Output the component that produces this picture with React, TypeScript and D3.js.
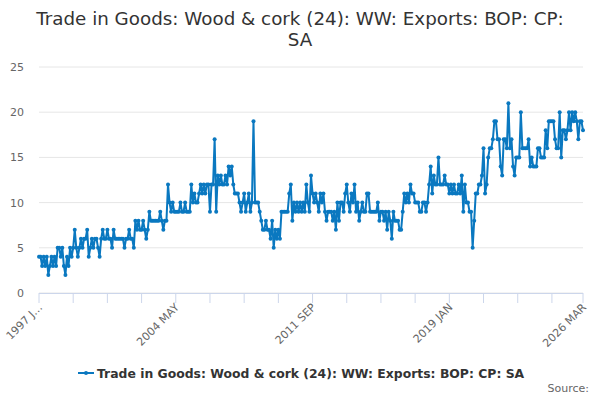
import React, { useEffect, useRef } from "react";
import * as d3 from "d3";

// Monthly values, 1997 JAN .. 2026 MAR
const startYear = 1997;
const monthNames = ["JAN", "FEB", "MAR", "APR", "MAY", "JUN", "JUL", "AUG", "SEP", "OCT", "NOV", "DEC"];

const values1997to2003 = [
  4, 4, 3, 4, 3, 4, 2, 3, 4, 3, 4, 3,
  5, 5, 4, 5, 3, 2, 4, 3, 5, 4, 5, 7,
  5, 4, 5, 6, 5, 6, 6, 7, 4, 5, 6, 5,
  6, 6, 5, 4, 6, 7, 6, 6, 7, 6, 6, 5,
  7, 6, 6, 6, 6, 6, 6, 5, 6, 6, 7, 6,
  6, 5, 8, 7, 8, 7, 7, 8, 7, 6, 7, 9,
  8, 8, 8, 8, 8, 8, 9, 8, 7, 8, 8, 12,
];
const values2004to2010 = [
  10, 9, 10, 9, 9, 9, 9, 10, 9, 9, 10, 9,
  9, 9, 12, 10, 11, 10, 10, 11, 12, 11, 12, 11,
  12, 12, 9, 12, 12, 17, 9, 13, 12, 13, 12, 12,
  13, 12, 14, 13, 14, 12, 11, 11, 11, 10, 9, 10,
  11, 9, 10, 11, 9, 10, 19, 10, 10, 10, 9, 8,
  7, 7, 8, 7, 7, 6, 8, 5, 7, 6, 7, 6,
  9, 9, 9, 9, 9, 11, 12, 8, 10, 9, 10, 9,
];
const values2011to2018 = [
  10, 9, 10, 9, 12, 10, 9, 13, 11, 10, 11, 10,
  9, 11, 10, 11, 9, 8, 9, 9, 9, 8, 9, 7,
  10, 8, 10, 10, 9, 11, 12, 10, 9, 11, 10, 12,
  9, 10, 8, 9, 10, 9, 9, 11, 11, 9, 9, 9,
  9, 9, 10, 8, 9, 9, 8, 9, 7, 9, 8, 6,
  9, 8, 8, 8, 7, 7, 9, 11, 10, 11, 10, 12,
  11, 11, 10, 10, 10, 9, 9, 10, 10, 9, 10, 12,
  14, 11, 13, 12, 12, 15, 12, 12, 12, 13, 12, 12,
];
const values2019to2026 = [
  11, 12, 11, 12, 11, 11, 12, 11, 13, 9, 12, 10,
  10, 9, 9, 5, 8, 11, 11, 12, 12, 13, 16, 11,
  12, 15, 16, 16, 17, 19, 19, 17, 17, 14, 13, 17,
  17, 16, 21, 16, 17, 14, 13, 15, 15, 15, 20, 16,
  16, 16, 16, 17, 14, 15, 14, 14, 14, 16, 16, 15,
  15, 15, 18, 16, 19, 19, 19, 19, 17, 16, 16, 20,
  15, 18, 18, 17, 18, 20, 18, 20, 19, 20, 19, 17,
  19, 19, 18,
];

const yTicks = [0, 5, 10, 15, 20, 25];
const seriesName = "Trade in Goods: Wood & cork (24): WW: Exports: BOP: CP: SA";
const titleLines = ["Trade in Goods: Wood & cork (24): WW: Exports: BOP: CP:", "SA"];

const App: React.FC = () => {
  const svgRef = useRef<SVGSVGElement | null>(null);
  const width = 600;
  const height = 400;

  useEffect(() => {
    const values = [...values1997to2003, ...values2004to2010, ...values2011to2018, ...values2019to2026];
    const data = values.map((value, i) => ({
      label: `${startYear + Math.floor(i / 12)} ${monthNames[i % 12]}`,
      value,
    }));

    const margin = { top: 67, right: 17, bottom: 107, left: 39 };
    const color = "#0a78c0";
    const font = "'DejaVu Sans', Verdana, sans-serif";

    const svg = d3.select(svgRef.current);
    svg.selectAll("*").remove();

    const x = d3
      .scalePoint<string>()
      .domain(data.map((d) => d.label))
      .range([margin.left, width - margin.right]);

    const y = d3
      .scaleLinear()
      .domain([0, 25])
      .range([height - margin.bottom, margin.top]);

    // Title
    svg
      .append("text")
      .attr("text-anchor", "middle")
      .attr("font-family", font)
      .attr("font-size", 18.3)
      .attr("fill", "#333333")
      .selectAll("tspan")
      .data(titleLines)
      .enter()
      .append("tspan")
      .attr("x", width / 2)
      .attr("y", (d, i) => 25 + i * 21)
      .text((d) => d);

    // Gridlines + y labels
    const grid = svg.append("g");
    grid
      .selectAll("line")
      .data(yTicks)
      .enter()
      .append("line")
      .attr("x1", margin.left)
      .attr("x2", width - margin.right)
      .attr("y1", (d) => y(d))
      .attr("y2", (d) => y(d))
      .attr("stroke", "#e6e6e6")
      .attr("stroke-width", 1);

    grid
      .selectAll("text")
      .data(yTicks)
      .enter()
      .append("text")
      .attr("x", 24)
      .attr("y", (d) => y(d) + 4)
      .attr("text-anchor", "end")
      .attr("font-family", font)
      .attr("font-size", 11)
      .attr("fill", "#666666")
      .text((d) => d);

    // X axis
    const tickIdx = d3.range(0, data.length, 22).concat([data.length - 1]);
    const labelIdx = [0, 88, 176, 264, data.length - 1];
    const xAxis = svg.append("g");
    xAxis
      .append("line")
      .attr("x1", margin.left)
      .attr("x2", width - margin.right)
      .attr("y1", y(0) + 0.5)
      .attr("y2", y(0) + 0.5)
      .attr("stroke", "#ccd6eb");
    xAxis
      .selectAll(".tick")
      .data(tickIdx)
      .enter()
      .append("line")
      .attr("class", "tick")
      .attr("x1", (i) => x(data[i].label)!)
      .attr("x2", (i) => x(data[i].label)!)
      .attr("y1", y(0))
      .attr("y2", y(0) + 10)
      .attr("stroke", "#ccd6eb");
    xAxis
      .selectAll("text")
      .data(labelIdx)
      .enter()
      .append("text")
      .attr("transform", (i) => `translate(${x(data[i].label)! + 4}, ${y(0) + 15}) rotate(-45)`)
      .attr("text-anchor", "end")
      .attr("font-family", font)
      .attr("font-size", 11)
      .attr("fill", "#666666")
      .text((i) => (i === 0 ? "1997 J…" : data[i].label));

    // Line + markers
    const line = d3
      .line<{ label: string; value: number }>()
      .x((d) => x(d.label)!)
      .y((d) => y(d.value));

    svg
      .append("path")
      .datum(data)
      .attr("d", line)
      .attr("fill", "none")
      .attr("stroke", color)
      .attr("stroke-width", 2)
      .attr("stroke-linejoin", "round");

    svg
      .append("g")
      .selectAll("circle")
      .data(data)
      .enter()
      .append("circle")
      .attr("cx", (d) => x(d.label)!)
      .attr("cy", (d) => y(d.value))
      .attr("r", 2)
      .attr("fill", color);

    // Legend
    const legend = svg.append("g").attr("transform", `translate(78, 373)`);
    legend
      .append("line")
      .attr("x1", 0)
      .attr("x2", 16)
      .attr("y1", 0)
      .attr("y2", 0)
      .attr("stroke", color)
      .attr("stroke-width", 2);
    legend.append("circle").attr("cx", 8).attr("cy", 0).attr("r", 2).attr("fill", color);
    legend
      .append("text")
      .attr("x", 19)
      .attr("y", 5)
      .attr("font-family", font)
      .attr("font-size", 12.4)
      .attr("font-weight", "bold")
      .attr("fill", "#333333")
      .text(seriesName);

    // Credits
    svg
      .append("text")
      .attr("x", 589)
      .attr("y", 392)
      .attr("text-anchor", "end")
      .attr("font-family", font)
      .attr("font-size", 11)
      .attr("fill", "#666666")
      .text("Source:");
  }, []);

  return (
    <svg
      ref={svgRef}
      width={width}
      height={height}
      style={{ position: "absolute", left: 0, top: 0, background: "#ffffff" }}
    />
  );
};

export default App;
